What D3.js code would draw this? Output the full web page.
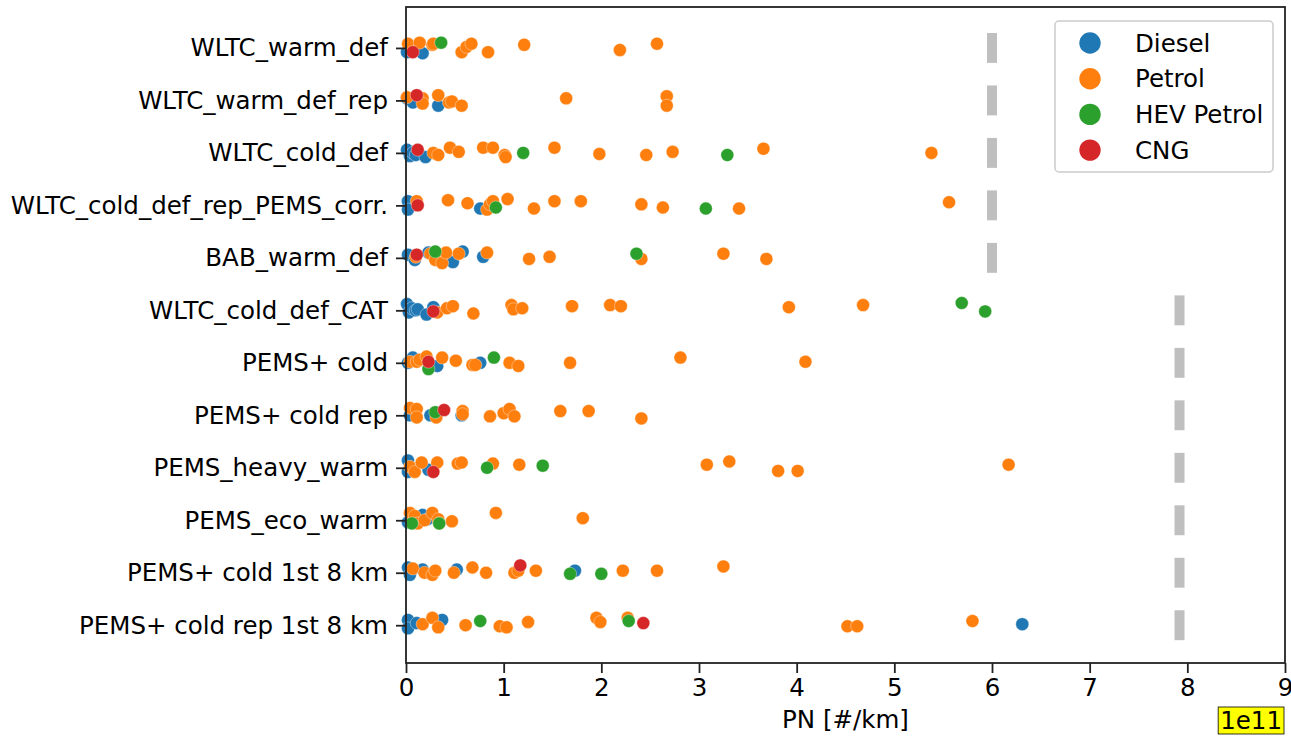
<!DOCTYPE html>
<html>
<head>
<meta charset="utf-8">
<script src="https://cdn.jsdelivr.net/npm/d3@7"></script>
<style>
  body { margin: 0; background: #fff; }
  text { font-family: "DejaVu Sans", sans-serif; fill: #000; }
</style>
</head>
<body>
<div id="chart"></div>
<script>
// test categories, top to bottom
const categories = [
    "WLTC_warm_def", "WLTC_warm_def_rep", "WLTC_cold_def", "WLTC_cold_def_rep_PEMS_corr.",
    "BAB_warm_def", "WLTC_cold_def_CAT", "PEMS+ cold", "PEMS+ cold rep",
    "PEMS_heavy_warm", "PEMS_eco_warm", "PEMS+ cold 1st 8 km", "PEMS+ cold rep 1st 8 km"
];

// limit marker per category (1e11 #/km)
const limits = [6, 6, 6, 6, 6, 7.92, 7.92, 7.92, 7.92, 7.92, 7.92, 7.92];

const fuels = ["Diesel", "Petrol", "HEV Petrol", "CNG"];
const xTicks = [0, 1, 2, 3, 4, 5, 6, 7, 8, 9];

// [category index, PN value (1e11 #/km), strip jitter]
const diesel = [
    [0, 0.01, 0.08], [0, 0.09, 0], [0, 0.17, 0.1],
    [1, 0.01, -0.04], [1, 0.07, 0.04], [1, 0.33, 0.1],
    [2, 0.01, -0.06], [2, 0.04, 0.06], [2, 0.07, 0], [2, 0.1, 0.04], [2, 0.2, 0.08],
    [3, 0.02, -0.08], [3, 0.02, 0.08], [3, 0.76, 0.06],
    [4, 0.02, -0.06], [4, 0.09, 0.04], [4, 0.23, -0.1], [4, 0.48, 0.08], [4, 0.58, -0.12], [4, 0.79, -0.02],
    [5, 0.01, -0.12], [5, 0.03, 0.04], [5, 0.06, -0.04], [5, 0.1, 0], [5, 0.12, -0.02], [5, 0.21, 0.08], [5, 0.28, -0.06],
    [6, 0.02, 0], [6, 0.07, -0.1], [6, 0.32, 0.06], [6, 0.76, 0],
    [7, 0.04, 0], [7, 0.25, 0], [7, 0.57, 0],
    [8, 0.02, -0.14], [8, 0.02, 0.08], [8, 0.23, 0.04],
    [9, 0.02, 0.04], [9, 0.17, -0.1], [9, 0.22, -0.02],
    [10, 0.02, -0.1], [10, 0.04, 0.04], [10, 0.17, -0.06], [10, 0.52, -0.06], [10, 1.73, -0.04],
    [11, 0.02, -0.1], [11, 0.02, 0.06], [11, 0.11, -0.04], [11, 0.37, -0.1], [11, 6.31, -0.02]
];

const petrol = [
    [0, 0.02, -0.08], [0, 0.14, -0.1], [0, 0.27, -0.06], [0, 0.28, -0.08], [0, 0.57, 0.08], [0, 0.62, -0.02],
    [0, 0.67, -0.08], [0, 0.84, 0.08], [0, 1.21, -0.06], [0, 2.19, 0.04], [0, 2.57, -0.08],
    [1, 0.01, -0.06], [1, 0.17, -0.04], [1, 0.17, 0.06], [1, 0.33, -0.1], [1, 0.44, 0.04], [1, 0.47, 0.02],
    [1, 0.57, 0.1], [1, 1.64, -0.04], [1, 2.67, -0.08], [1, 2.67, 0.1],
    [2, 0.28, 0], [2, 0.33, 0.04], [2, 0.45, -0.1], [2, 0.54, -0.02], [2, 0.79, -0.1], [2, 0.89, -0.1],
    [2, 1.01, 0.04], [2, 1.02, 0.08], [2, 1.52, -0.1], [2, 1.98, 0.02], [2, 2.46, 0.04], [2, 2.73, -0.02],
    [2, 3.66, -0.08], [2, 5.38, 0],
    [3, 0.11, -0.08], [3, 0.43, -0.1], [3, 0.63, -0.04], [3, 0.83, 0.08], [3, 0.86, -0.02], [3, 0.89, -0.08],
    [3, 1.04, -0.12], [3, 1.31, 0.06], [3, 1.52, -0.08], [3, 1.79, -0.08], [3, 2.41, -0.02], [3, 2.63, 0.04],
    [3, 3.41, 0.06], [3, 5.56, -0.06],
    [4, 0.1, -0.02], [4, 0.25, -0.08], [4, 0.3, 0.04], [4, 0.37, 0.1], [4, 0.41, -0.1], [4, 0.54, -0.08],
    [4, 0.83, -0.1], [4, 1.26, 0.02], [4, 1.47, -0.02], [4, 2.41, 0.02], [4, 3.25, -0.08], [4, 3.69, 0.02],
    [5, 0.32, 0.04], [5, 0.42, -0.04], [5, 0.48, -0.08], [5, 0.69, 0.06], [5, 1.08, -0.1], [5, 1.1, -0.02],
    [5, 1.19, -0.04], [5, 1.7, -0.08], [5, 2.09, -0.1], [5, 2.2, -0.08], [5, 3.92, -0.06], [5, 4.68, -0.1],
    [6, 0.04, -0.02], [6, 0.11, -0.02], [6, 0.14, -0.06], [6, 0.21, -0.12], [6, 0.37, -0.1], [6, 0.51, -0.04],
    [6, 0.68, 0.04], [6, 0.71, 0.04], [6, 1.06, 0], [6, 1.15, 0.06], [6, 1.68, 0], [6, 2.81, -0.1], [6, 4.09, -0.02],
    [7, 0.04, -0.14], [7, 0.11, -0.12], [7, 0.11, 0.04], [7, 0.31, 0.04], [7, 0.58, -0.08], [7, 0.58, -0.02],
    [7, 0.86, 0.02], [7, 1.0, -0.04], [7, 1.06, -0.12], [7, 1.11, 0.02], [7, 1.58, -0.08], [7, 1.87, -0.08], [7, 2.41, 0.06],
    [8, 0.04, -0.02], [8, 0.09, 0.08], [8, 0.16, -0.1], [8, 0.32, -0.1], [8, 0.53, -0.08], [8, 0.57, -0.1],
    [8, 0.89, -0.08], [8, 1.16, -0.06], [8, 3.08, -0.06], [8, 3.31, -0.12], [8, 3.81, 0.06], [8, 4.01, 0.06], [8, 6.17, -0.06],
    [9, 0.04, -0.14], [9, 0.09, -0.08], [9, 0.12, 0.06], [9, 0.19, 0], [9, 0.27, -0.14], [9, 0.33, -0.02],
    [9, 0.34, 0.06], [9, 0.47, 0.02], [9, 0.92, -0.14], [9, 1.81, -0.04],
    [10, 0.07, -0.08], [10, 0.19, 0], [10, 0.27, 0.04], [10, 0.3, -0.04], [10, 0.49, 0], [10, 0.68, -0.1],
    [10, 0.82, 0], [10, 1.11, 0], [10, 1.15, -0.04], [10, 1.33, -0.04], [10, 2.22, -0.04], [10, 2.57, -0.04], [10, 3.25, -0.12],
    [11, 0.17, -0.02], [11, 0.27, -0.14], [11, 0.33, 0.04], [11, 0.61, 0], [11, 0.96, 0.02], [11, 1.03, 0.04],
    [11, 1.25, -0.06], [11, 1.95, -0.14], [11, 1.99, -0.06], [11, 2.27, -0.14], [11, 4.52, 0.02], [11, 4.62, 0.02], [11, 5.8, -0.08]
];

const hevPetrol = [
    [0, 0.36, -0.1],
    [2, 1.2, 0], [2, 3.29, 0.04],
    [3, 0.92, 0.04], [3, 3.07, 0.06],
    [4, 0.3, -0.12], [4, 2.36, -0.08],
    [5, 5.69, -0.14], [5, 5.93, 0.02],
    [6, 0.23, 0.12], [6, 0.9, -0.1],
    [7, 0.3, -0.06],
    [8, 0.83, 0], [8, 1.4, -0.04],
    [9, 0.06, 0.06], [9, 0.34, 0.06],
    [10, 1.68, 0.02], [10, 2.0, 0.02],
    [11, 0.76, -0.08], [11, 2.28, -0.08]
];

const cng = [
    [0, 0.07, 0.08], [1, 0.11, -0.1], [2, 0.12, -0.06], [3, 0.12, 0], [4, 0.11, -0.06],
    [5, 0.28, 0.02], [6, 0.23, -0.02], [7, 0.39, -0.1], [8, 0.28, 0.08],
    [10, 1.17, -0.14], [11, 2.43, -0.04]
];

const series = [diesel, petrol, hevPetrol, cng];
const colors = ["#1f77b4", "#ff7f0e", "#2ca02c", "#d62728"];

function init() {
    const w = 1291;
    const h = 738;
    const left = 406, right = 1285, top = 7, bottom = 663;
    const fontSize = 24.5;

    const svg = d3.select("#chart")
        .append("svg")
        .attr("width", w)
        .attr("height", h);

    const xScale = d3.scaleLinear()
        .domain([0, 9])
        .range([left, right]);

    // category axis as a linear scale so strip jitter can be applied
    const yScale = d3.scaleLinear()
        .domain([-0.78, 11.72])
        .range([top, bottom]);

    const color = d3.scaleOrdinal().domain(fuels).range(colors);

    // limit markers, one short grey bar per category
    svg.append("g")
        .selectAll("line")
        .data(limits)
        .enter()
        .append("line")
        .attr("x1", d => xScale(d))
        .attr("x2", d => xScale(d))
        .attr("y1", (d, i) => yScale(i - 0.285))
        .attr("y2", (d, i) => yScale(i + 0.285))
        .attr("stroke", "#bfbfbf")
        .attr("stroke-width", 10);

    // strip plot points
    series.forEach((pts, k) => {
        svg.append("g")
            .selectAll("circle")
            .data(pts)
            .enter()
            .append("circle")
            .attr("cx", d => xScale(d[1]))
            .attr("cy", d => yScale(d[0] + d[2]))
            .attr("r", 6.5)
            .attr("fill", color(fuels[k]))
            .attr("stroke", "#fff")
            .attr("stroke-opacity", 0.6)
            .attr("stroke-width", 0.6);
    });

    // x axis
    const xAxis = d3.axisBottom(xScale)
        .tickValues(xTicks)
        .tickFormat(d3.format("d"))
        .tickSize(10)
        .tickPadding(6);

    const gx = svg.append("g")
        .attr("transform", `translate(0,${bottom})`)
        .call(xAxis);

    // y axis
    const yAxis = d3.axisLeft(yScale)
        .tickValues(d3.range(categories.length))
        .tickFormat(i => categories[i])
        .tickSize(10)
        .tickPadding(8);

    const gy = svg.append("g")
        .attr("transform", `translate(${left},0)`)
        .call(yAxis);

    [gx, gy].forEach(g => {
        g.select(".domain").remove();
        g.selectAll(".tick line").attr("stroke", "#222").attr("stroke-width", 1.8);
        g.selectAll(".tick text")
            .attr("font-family", "DejaVu Sans")
            .attr("font-size", fontSize)
            .attr("fill", "#000");
    });

    // frame
    svg.append("rect")
        .attr("x", left)
        .attr("y", top)
        .attr("width", right - left)
        .attr("height", bottom - top)
        .attr("fill", "none")
        .attr("stroke", "#222")
        .attr("stroke-width", 1.8);

    // x label
    svg.append("text")
        .attr("x", (left + right) / 2)
        .attr("y", 728)
        .attr("text-anchor", "middle")
        .attr("font-size", fontSize)
        .text("PN [#/km]");

    // offset text with highlight
    const off = svg.append("g");
    const offText = off.append("text")
        .attr("x", 1282)
        .attr("y", 729)
        .attr("text-anchor", "end")
        .attr("font-size", fontSize)
        .text("1e11");
    const bb = offText.node().getBBox();
    off.insert("rect", "text")
        .attr("x", bb.x - 2)
        .attr("y", bb.y + 1)
        .attr("width", bb.width + 4)
        .attr("height", bb.height - 2)
        .attr("fill", "#ffff00")
        .attr("stroke", "#000")
        .attr("stroke-width", 0.8);

    // legend
    const legend = svg.append("g");
    legend.append("rect")
        .attr("x", 1055)
        .attr("y", 21)
        .attr("width", 218)
        .attr("height", 151)
        .attr("rx", 4)
        .attr("fill", "#fff")
        .attr("fill-opacity", 0.8)
        .attr("stroke", "#cccccc")
        .attr("stroke-width", 1.5);

    const items = legend.selectAll("g.item")
        .data(fuels)
        .enter()
        .append("g")
        .attr("class", "item")
        .attr("transform", (d, i) => `translate(1090,${43 + i * 35.7})`);

    items.append("circle")
        .attr("r", 10.7)
        .attr("fill", d => color(d));

    items.append("text")
        .attr("x", 45)
        .attr("dy", "0.35em")
        .attr("font-size", fontSize)
        .text(d => d);
}

window.onload = init;
</script>
</body>
</html>
